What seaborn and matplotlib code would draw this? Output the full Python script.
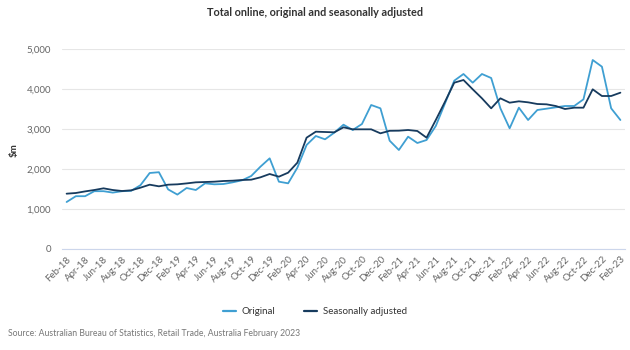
import numpy as np
import pandas as pd
import matplotlib
matplotlib.use("Agg")
import matplotlib.pyplot as plt
import seaborn as sns

# Total online retail turnover, $m
months = pd.date_range("2018-02-01", "2023-02-01", freq="MS").strftime("%b-%y").tolist()

original = [
    1175, 1320, 1320, 1445, 1445, 1410, 1445, 1455, 1595, 1900,
    1920, 1490, 1360, 1525, 1475, 1642, 1617, 1625, 1667, 1717,
    1825, 2058, 2267, 1683, 1642, 2033, 2600, 2825, 2742, 2908,
    3108, 2975, 3125, 3600, 3517, 2708, 2475, 2808, 2650, 2725,
    3075, 3642, 4208, 4375, 4158, 4375, 4275, 3517, 3017, 3533,
    3225, 3475, 3508, 3542, 3575, 3575, 3742, 4725, 4558, 3517,
    3225,
]
seasonally_adjusted = [
    1383, 1400, 1440, 1475, 1517, 1475, 1450, 1467, 1533, 1608,
    1567, 1608, 1617, 1640, 1667, 1675, 1683, 1700, 1708, 1725,
    1733, 1792, 1875, 1808, 1908, 2158, 2783, 2933, 2925, 2917,
    3042, 2992, 2992, 2992, 2892, 2955, 2958, 2975, 2950, 2783,
    3225, 3683, 4158, 4225, 3992, 3767, 3517, 3767, 3658, 3692,
    3667, 3625, 3617, 3575, 3500, 3533, 3533, 3992, 3825, 3825,
    3908,
]

series_names = ["Original", "Seasonally adjusted"]
series_colors = ["#3f9fd2", "#173b5e"]

idx = np.arange(len(months))
df = pd.concat([
    pd.DataFrame({"i": idx, "value": original, "series": series_names[0]}),
    pd.DataFrame({"i": idx, "value": seasonally_adjusted, "series": series_names[1]}),
])

sns.set_style("white")
plt.rcParams["font.family"] = ["Lato", "DejaVu Sans"]

fig = plt.figure(figsize=(6.3, 3.5), dpi=100)
ax = fig.add_axes([62 / 630, 101 / 350, 563 / 630, 200 / 350])

sns.lineplot(data=df, x="i", y="value", hue="series", palette=series_colors,
             linewidth=1.3, ax=ax, legend=False)

ax.set_xlim(-0.5, len(months) - 0.5)
ax.set_ylim(0, 5000)
ax.set_yticks(range(0, 5001, 1000))
ax.set_yticklabels([f"{v:,}" for v in range(0, 5001, 1000)])
ax.set_xticks(idx[::2])
ax.set_xticklabels(months[::2], rotation=45, ha="right", rotation_mode="anchor")

ax.tick_params(axis="y", length=0, pad=8, labelsize=7, labelcolor="#666666")
ax.tick_params(axis="x", length=0, pad=4, labelsize=7, labelcolor="#666666")
ax.grid(axis="y", color="#e6e6e6", linewidth=0.8)
for s in ["top", "right", "left"]:
    ax.spines[s].set_visible(False)
ax.spines["bottom"].set_color("#ccd6eb")
ax.spines["bottom"].set_linewidth(0.8)

ax.set_xlabel("")
ax.set_ylabel("")
fig.text(14 / 630, 1 - 150 / 350, "$m", rotation=90, ha="center", va="center",
         fontsize=7, color="#333333", fontweight="bold")

fig.text(0.5, 1 - 13 / 350, "Total online, original and seasonally adjusted",
         ha="center", va="center", fontsize=7.8, color="#333333", fontweight="bold")

handles = [plt.Line2D([], [], color=c, linewidth=1.6) for c in series_colors]
fig.legend(handles, series_names, loc="center", bbox_to_anchor=(0.5, 1 - 312 / 350),
           ncol=2, frameon=False, fontsize=7, handlelength=1.3, columnspacing=3,
           handletextpad=0.6, labelcolor="#333333")

fig.text(8 / 630, 1 - 333 / 350,
         "Source: Australian Bureau of Statistics, Retail Trade, Australia February 2023",
         ha="left", va="center", fontsize=6.2, color="#777777")

fig.savefig("out.png", dpi=100)
